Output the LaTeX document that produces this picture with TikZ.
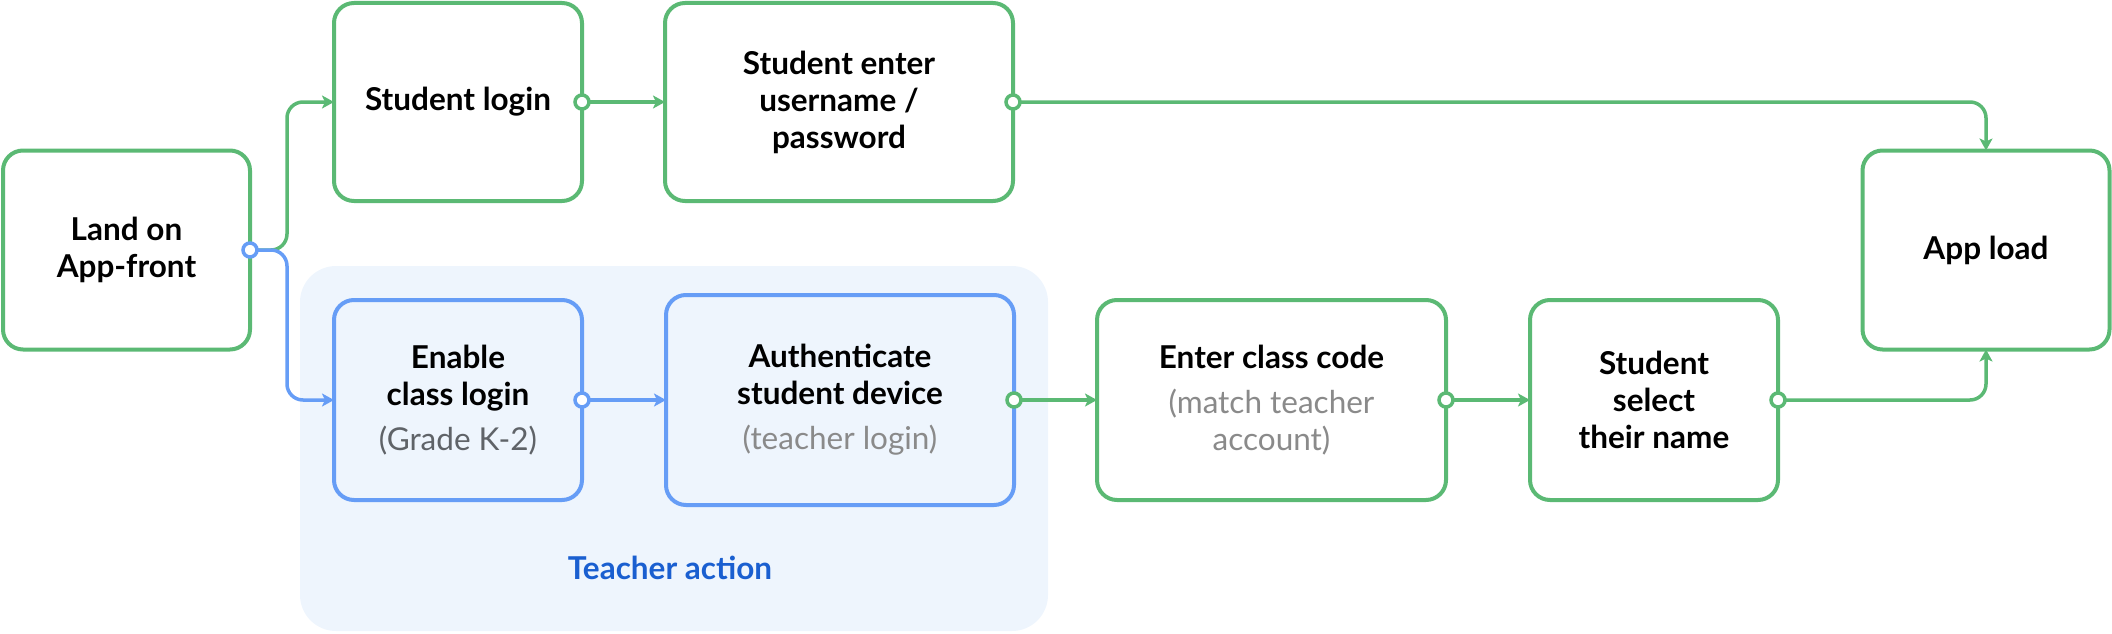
\documentclass[tikz,border=0pt]{standalone}
\usepackage{fontspec}
\setmainfont{Lato}
\usetikzlibrary{arrows.meta,calc}
\definecolor{gline}{HTML}{5BB974}
\definecolor{bline}{HTML}{669DF6}
\definecolor{bgfill}{HTML}{EEF5FD}
\definecolor{tact}{HTML}{1A5FD0}
\definecolor{subdark}{HTML}{5F6368}
\definecolor{sublight}{HTML}{8A8A8A}
\newcommand{\subD}[1]{{\mdseries\color{subdark}#1}}
\newcommand{\subL}[1]{{\mdseries\color{sublight}#1}}
\begin{document}
\begin{tikzpicture}[x=1pt,y=-1pt,
  box/.style={draw=gline, line width=4pt, rounded corners=20pt, fill=white,
    align=center, inner sep=0pt, outer sep=0pt,
    font=\fontsize{31.5}{37}\selectfont\bfseries},
  bbox/.style={box, draw=bline, fill=bgfill},
  conn/.style={line width=3.5pt, -{Stealth[length=12pt,width=13pt,inset=3pt]}, rounded corners=16pt},
  gconn/.style={conn, draw=gline},
  bconn/.style={conn, draw=bline},
  dot/.style={circle, draw=#1, line width=3.5pt, fill=white, minimum size=14pt, inner sep=0pt},
]
\useasboundingbox (0,0) rectangle (2112,634);
% background group
\node[fill=bgfill, rounded corners=36pt, minimum width=748pt, minimum height=365pt, inner sep=0pt] (bg) at (674,448.5) {};
\node[font=\fontsize{31.5}{37}\selectfont\bfseries, text=tact] (tlabel) at (670,568) {Teacher action};

% nodes
\node[box, minimum width=247pt, minimum height=199pt] (land) at (126.5,250) {Land on\\App-front};
\node[box, minimum width=248pt, minimum height=198pt] (slogin) at (458,102) {Student login};
\node[box, minimum width=348pt, minimum height=198pt] (senter) at (839,102) {Student enter\\username /\\password};
\node[box, minimum width=247pt, minimum height=199pt] (appload) at (1986,250) {App load};
\node[bbox, minimum width=248pt, minimum height=200pt] (enable) at (458,400)
  {Enable\\class login\\[8pt]\subD{(Grade K-2)}};
\node[bbox, minimum width=348pt, minimum height=210pt] (auth) at (840,400)
  {Authenticate\\student device\\[8pt]\subL{(teacher login)}};
\node[box, minimum width=349pt, minimum height=200pt] (enter) at (1271.5,400)
  {Enter class code\\[8pt]\subL{(match teacher}\\\subL{account)}};
\node[box, minimum width=248pt, minimum height=200pt] (select) at (1654,400)
  {Student\\select\\their name};

% connectors
\draw[gconn] (land.east) -- ++(37,0) |- (slogin.west);
\draw[bconn] (land.east) -- ++(37,0) |- (enable.west);
\draw[gconn] (slogin.east) -- (senter.west);
\draw[gconn] (senter.east) -| (appload.north);
\draw[bconn] (enable.east) -- (auth.west);
\draw[gconn] (auth.east) -- (enter.west);
\draw[gconn] (enter.east) -- (select.west);
\draw[gconn] (select.east) -| (appload.south);

% source dots
\node[dot=bline] (d1) at (land.east) {};
\node[dot=gline] (d2) at (slogin.east) {};
\node[dot=gline] (d3) at (senter.east) {};
\node[dot=bline] (d4) at (enable.east) {};
\node[dot=gline] (d5) at (auth.east) {};
\node[dot=gline] (d6) at (enter.east) {};
\node[dot=gline] (d7) at (select.east) {};
\end{tikzpicture}
\end{document}
